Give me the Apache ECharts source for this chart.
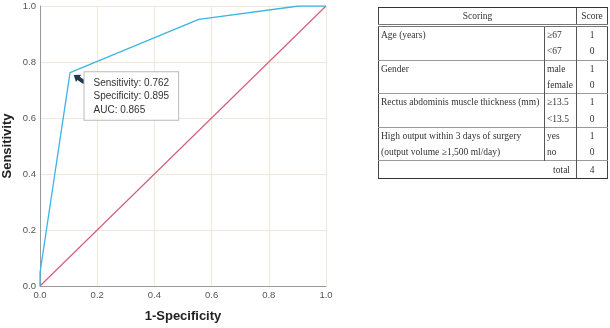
<!DOCTYPE html>
<html>
<head>
<meta charset="utf-8">
<script src="https://cdn.jsdelivr.net/npm/echarts@6/dist/echarts.min.js"></script>
<style>
  html, body { margin: 0; padding: 0; background: #fff; }
  #wrap { position: relative; width: 610px; height: 328px; }
  #chart { position: absolute; left: 0; top: 0; width: 610px; height: 328px; }
  #score-table {
    position: absolute; left: 378px; top: 7px; width: 229px;
    table-layout: fixed;
    border-collapse: collapse;
    border-left: 1px solid #444; border-right: 1px solid #444;
    font-family: "Liberation Serif", "DejaVu Serif", serif;
    font-size: 9.5px; color: #333;
  }
  #score-table td { padding: 0 2px; height: 16.3px; line-height: 16px; white-space: nowrap; overflow: hidden; }
  #score-table td.c2 { border-left: 1px solid #555; }
  #score-table td.c3 { border-left: 1px solid #555; text-align: center; }
  #score-table tr.head td { text-align: center; border-top: 1.5px solid #333; border-bottom: 3px double #777; height: 16px; }
  #score-table tr.grp td { border-top: 1px solid #999; }
  #score-table tr.total td { border-top: 1px solid #999; border-bottom: 1.5px solid #333; }
</style>
</head>
<body>
<div id="wrap">
  <div id="chart"></div>
  <table id="score-table"></table>
</div>
<script>
// ROC curve points (1-specificity, sensitivity)
const rocX = [0, 0, 0.105, 0.555, 0.905, 1];
const rocY = [0, 0.048, 0.762, 0.952, 1, 1];
const refX = [0, 1];
const refY = [0, 1];
const cutPoint = [0.105, 0.762];
const cutText = ['Sensitivity: 0.762', 'Specificity: 0.895', 'AUC: 0.865'];

// scoring table
const scoreItems = ['Age (years)', 'Gender', 'Rectus abdominis muscle thickness (mm)',
  'High output within 3 days of surgery'];
const scoreItems2 = ['', '', '', '(output volume \u22651,500 ml/day)'];
const scoreLevels = [['\u226567', '<67'], ['male', 'female'], ['\u226513.5', '<13.5'], ['yes', 'no']];
const scorePoints = [[1, 0], [1, 0], [1, 0], [1, 0]];
const scoreTotal = 4;

const tbl = document.getElementById('score-table');
let html = '<colgroup><col style="width:166px"><col style="width:32px"><col style="width:31px"></colgroup>';
html += '<tr class="head"><td colspan="2">Scoring</td><td class="c3">Score</td></tr>';
scoreItems.forEach((name, i) => {
    html += `<tr class="grp"><td>${name}</td><td class="c2">${scoreLevels[i][0]}</td><td class="c3">${scorePoints[i][0]}</td></tr>`;
    html += `<tr><td>${scoreItems2[i]}</td><td class="c2">${scoreLevels[i][1]}</td><td class="c3">${scorePoints[i][1]}</td></tr>`;
});
html += `<tr class="total"><td colspan="2" style="text-align:right;padding-right:6px">total</td><td class="c3">${scoreTotal}</td></tr>`;
tbl.innerHTML = html;

const chart = echarts.init(document.getElementById('chart'));

const axisCommon = {
    type: 'value',
    min: 0,
    max: 1,
    interval: 0.2,
    nameLocation: 'middle',
    nameTextStyle: { fontFamily: 'Liberation Sans', fontWeight: 'bold', fontSize: 13, color: '#222' },
    axisLine: { show: true, lineStyle: { color: '#9a9a9a', width: 1 } },
    axisTick: { show: false },
    axisLabel: {
        fontFamily: 'Liberation Sans', fontSize: 9.5, color: '#555', margin: 4,
        formatter: v => v.toFixed(1)
    },
    splitLine: { show: true, lineStyle: { color: '#efe9d8', width: 1 } }
};

const option = {
    animation: false,
    grid: { left: 39, top: 6, width: 287, height: 283 },
    xAxis: Object.assign({}, axisCommon, { name: '1-Specificity', nameGap: 24 }),
    yAxis: Object.assign({}, axisCommon, { name: 'Sensitivity', nameGap: 26 }),
    series: [
        {
            name: 'reference',
            type: 'line',
            data: refX.map((x, i) => [x, refY[i]]),
            symbol: 'none',
            lineStyle: { color: '#d2607a', width: 1.2 },
            z: 2
        },
        {
            name: 'ROC',
            type: 'line',
            data: rocX.map((x, i) => [x, rocY[i]]),
            symbol: 'none',
            lineStyle: { color: '#3db5e4', width: 1.3 },
            z: 3,
            markPoint: {
                silent: true,
                data: [
                    {
                        coord: cutPoint,
                        symbol: 'path://M5,0 L10,5.5 L7.2,5.5 L7.2,12 L2.8,12 L2.8,5.5 L0,5.5 Z',
                        symbolSize: [9, 13],
                        symbolRotate: 55,
                        symbolOffset: [9, 6],
                        itemStyle: { color: '#1e3a4c' },
                        label: { show: false }
                    },
                    {
                        coord: cutPoint,
                        symbol: 'circle',
                        symbolSize: 1,
                        itemStyle: { color: 'rgba(0,0,0,0)' },
                        label: {
                            show: true,
                            position: [15, 0],
                            formatter: cutText.join('\n'),
                            fontFamily: 'Liberation Sans',
                            fontSize: 10,
                            lineHeight: 13.5,
                            color: '#333',
                            align: 'left',
                            verticalAlign: 'top',
                            backgroundColor: '#fff',
                            borderColor: '#bbb',
                            borderWidth: 1,
                            padding: [4, 9, 3, 9]
                        }
                    }
                ]
            }
        }
    ]
};
chart.setOption(option);
</script>
</body>
</html>
